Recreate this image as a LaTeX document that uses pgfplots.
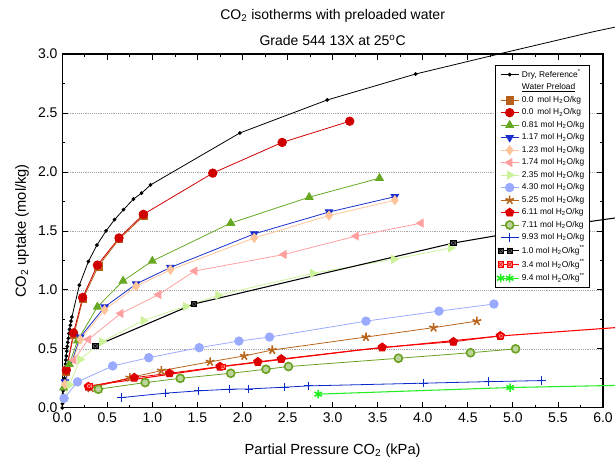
\documentclass[border=0pt]{standalone}
\usepackage{fontspec}
\setmainfont{Liberation Sans}
\usepackage{pgfplots}
\pgfplotsset{compat=1.18}
\usetikzlibrary{plotmarks}

\definecolor{cBrown}{HTML}{B8601A}
\definecolor{cRed}{HTML}{D00000}
\definecolor{cOlive}{HTML}{66A822}
\definecolor{cBlue}{HTML}{1A2ECC}
\definecolor{cPeach}{HTML}{FFC49A}
\definecolor{cPink}{HTML}{FFA0A0}
\definecolor{cLGreen}{HTML}{CCF299}
\definecolor{cLBlue}{HTML}{99AAFF}
\definecolor{cStar}{HTML}{B8651B}
\definecolor{cPent}{HTML}{DD0000}
\definecolor{cOlive2}{HTML}{6AA121}
\definecolor{cBlue2}{HTML}{0A2ACC}
\definecolor{cBRed}{HTML}{FF0000}
\definecolor{cBGreen}{HTML}{22EE22}

% square with a cross in it
\pgfdeclareplotmark{boxx}{%
  \pgfpathrectangle{\pgfqpoint{-\pgfplotmarksize}{-\pgfplotmarksize}}{\pgfqpoint{2\pgfplotmarksize}{2\pgfplotmarksize}}%
  \pgfusepathqfillstroke
  \pgfpathmoveto{\pgfqpoint{-\pgfplotmarksize}{-\pgfplotmarksize}}\pgfpathlineto{\pgfqpoint{\pgfplotmarksize}{\pgfplotmarksize}}%
  \pgfpathmoveto{\pgfqpoint{-\pgfplotmarksize}{\pgfplotmarksize}}\pgfpathlineto{\pgfqpoint{\pgfplotmarksize}{-\pgfplotmarksize}}%
  \pgfusepathqstroke}

\begin{document}
\begin{tikzpicture}
\begin{axis}[
  width=405.75pt, height=265.5pt, scale only axis,
  xmin=0, xmax=6, ymin=0, ymax=3,
  xtick={0,0.5,1,1.5,2,2.5,3,3.5,4,4.5,5,5.5,6},
  ytick={0,0.5,1,1.5,2,2.5,3},
  minor x tick num=1, minor y tick num=1,
  tick align=inside,
  major tick length=4.5pt, minor tick length=2.3pt,
  tick style={black, line width=0.6pt},
  axis line style={line width=0.8pt},
  ymajorgrids, major grid style={densely dotted, gray!70, line width=0.5pt},
  clip=false,
  /pgf/number format/assume math mode=true,
  xticklabel style={/pgf/number format/.cd, fixed, fixed zerofill, precision=1},
  yticklabel style={/pgf/number format/.cd, fixed, fixed zerofill, precision=1},
  ticklabel style={font=\fontsize{10.5}{12}\selectfont},
  xlabel={Partial Pressure CO\textsubscript{2} (kPa)},
  ylabel={CO\textsubscript{2} uptake (mol/kg)},
  label style={font=\fontsize{11}{13}\selectfont},
  xlabel style={yshift=-9pt},
  title={CO\textsubscript{2} isotherms with preloaded water\\Grade 544 13X at 25\textsuperscript{o}C},
  title style={align=center, font=\fontsize{10.5}{20}\selectfont, yshift=-3.5pt},
  legend style={at={(0.9755,0.969)}, anchor=north east, draw=black, fill=white,
    font=\fontsize{6.3}{7.6}\selectfont, row sep=-0.7pt, inner sep=1.5pt},
  legend cell align=left,
  legend image code/.code={%
    \draw[mark repeat=2, mark phase=2]
      plot coordinates {(0cm,0cm) (0.24cm,0cm) (0.48cm,0cm)};},
  every axis plot/.append style={line width=0.6pt},
]
% dry reference
\addplot[black, mark=*, mark size=1.1pt] coordinates {
(0.000,0.000) (0.002,0.035) (0.004,0.07) (0.007,0.11) (0.011,0.145) (0.015,0.18)
(0.019,0.215) (0.023,0.25) (0.027,0.29) (0.031,0.33) (0.036,0.37) (0.040,0.405)
(0.045,0.44) (0.050,0.48) (0.056,0.52) (0.062,0.555) (0.068,0.59) (0.075,0.63)
(0.082,0.665) (0.090,0.70) (0.098,0.735) (0.107,0.77) (0.19,1.04) (0.29,1.24)
(0.385,1.38) (0.486,1.50) (0.58,1.595) (0.68,1.68) (0.79,1.77) (0.88,1.82)
(0.98,1.89) (1.97,2.33) (2.94,2.61) (3.92,2.83)};
\addlegendentry{Dry, Reference\textsuperscript{*}}
\addplot[black, forget plot] coordinates {(3.92,2.83) (4.90,3.01) (5.90,3.19) (6.15,3.23)};
\addlegendimage{empty legend}
\addlegendentry{\underline{Water Preload}}
% 0.0 brown squares
\addplot[cBrown, mark=square*, mark size=2.8pt, mark options={fill=cBrown}] coordinates {
(0.04,0.31) (0.13,0.62) (0.23,0.925) (0.40,1.20) (0.63,1.43) (0.90,1.625)};
\addlegendentry{0.0 \,mol H\textsubscript{2}O/kg}
% 0.0 red circles
\addplot[cRed, mark=*, mark size=3.2pt, mark options={fill=cRed}] coordinates {
(0.045,0.32) (0.125,0.635) (0.226,0.935) (0.39,1.21) (0.63,1.44) (0.90,1.64)
(1.67,1.99) (2.44,2.25) (3.19,2.43)};
\addlegendentry{0.0 \,mol H\textsubscript{2}O/kg}
% 0.81
\addplot[cOlive, mark=triangle*, mark size=3.4pt, mark options={fill=cOlive}] coordinates {
(0.015,0.17) (0.078,0.37) (0.17,0.57) (0.39,0.856) (0.675,1.076) (1.00,1.245)
(1.87,1.566) (2.74,1.786) (3.52,1.947)};
\addlegendentry{0.81 mol H\textsubscript{2}O/kg}
% 1.17
\addplot[cBlue, mark=triangle*, mark size=3.2pt, mark options={fill=cBlue, rotate=180}] coordinates {
(0.03,0.22) (0.20,0.60) (0.47,0.855) (0.82,1.05) (1.20,1.19) (2.13,1.475)
(2.96,1.66) (3.69,1.79)};
\addlegendentry{1.17 mol H\textsubscript{2}O/kg}
% 1.23
\addplot[cPeach, mark=diamond*, mark size=3.4pt, mark options={fill=cPeach}] coordinates {
(0.03,0.20) (0.20,0.58) (0.47,0.83) (0.82,1.03) (1.20,1.17) (2.13,1.44)
(2.96,1.63) (3.69,1.76)};
\addlegendentry{1.23 mol H\textsubscript{2}O/kg}
% 1.74
\addplot[cPink, mark=triangle*, mark size=3.4pt, mark options={fill=cPink, rotate=90}] coordinates {
(0.127,0.405) (0.29,0.58) (0.65,0.80) (1.07,0.96) (1.47,1.16) (2.46,1.30)
(3.26,1.456) (3.98,1.566)};
\addlegendentry{1.74 mol H\textsubscript{2}O/kg}
% 2.35
\addplot[cLGreen, mark=triangle*, mark size=3.4pt, mark options={fill=cLGreen, rotate=-90}] coordinates {
(0.02,0.08) (0.08,0.195) (0.197,0.41) (0.44,0.56) (0.90,0.74) (1.37,0.86)
(1.73,0.955) (2.78,1.14) (3.68,1.26) (4.31,1.355)};
\addlegendentry{2.35 mol H\textsubscript{2}O/kg}
% 4.30
\addplot[cLBlue, mark=*, mark size=3.2pt, mark options={fill=cLBlue}] coordinates {
(0.02,0.08) (0.17,0.22) (0.56,0.355) (0.96,0.425) (1.52,0.51) (1.96,0.566)
(2.30,0.60) (3.37,0.735) (4.18,0.82) (4.79,0.88)};
\addlegendentry{4.30 mol H\textsubscript{2}O/kg}
% 5.25
\addplot[cStar, mark=star, mark size=3.4pt, mark options={fill=cStar, line width=1.2pt}] coordinates {
(0.315,0.166) (0.75,0.256) (1.10,0.315) (1.64,0.39) (2.02,0.44) (2.33,0.49)
(3.37,0.60) (4.12,0.68) (4.60,0.735)};
\addlegendentry{5.25 mol H\textsubscript{2}O/kg}
% 6.11
\addplot[cPent, mark=pentagon*, mark size=3.3pt, mark options={fill=cPent}] coordinates {
(0.29,0.18) (0.80,0.256) (1.19,0.293) (1.75,0.35) (2.17,0.39) (2.43,0.414)
(3.55,0.513) (4.34,0.56) (4.86,0.61)};
\addlegendentry{6.11 mol H\textsubscript{2}O/kg}
% 7.11
\addplot[cOlive2, mark=*, mark size=3.0pt, mark options={fill=cOlive2!45!white, line width=1.2pt}] coordinates {
(0.40,0.158) (0.92,0.214) (1.31,0.25) (1.87,0.293) (2.26,0.327) (2.51,0.35)
(3.73,0.42) (4.53,0.467) (5.03,0.50)};
\addlegendentry{7.11 mol H\textsubscript{2}O/kg}
% 9.93
\addplot[cBlue2, mark=+, mark size=3.2pt] coordinates {
(0.66,0.087) (1.14,0.124) (1.51,0.144) (1.86,0.158) (2.07,0.16) (2.47,0.175)
(2.73,0.186) (4.01,0.209) (4.73,0.222) (5.32,0.231)};
\addlegendentry{9.93 mol H\textsubscript{2}O/kg}
% 1.0 **
\addplot[black, line width=0.8pt, mark=boxx, mark size=2.0pt, mark indices={1,2,4},
  mark options={fill=gray!80!black, line width=0.5pt}] coordinates {
(0.367,0.524) (1.46,0.88) (2.90,1.14) (4.34,1.397) (5.20,1.51) (6.14,1.61)};
\addlegendentry{1.0 mol H\textsubscript{2}O/kg\textsuperscript{**}}
% 3.4 **
\addplot[cBRed, line width=0.8pt, mark=boxx, mark size=2.0pt, mark indices={1,2,4},
  mark options={fill=cBRed!40!white, line width=0.5pt}] coordinates {
(0.30,0.185) (1.78,0.35) (3.30,0.49) (4.87,0.61) (6.14,0.68)};
\addlegendentry{3.4 mol H\textsubscript{2}O/kg\textsuperscript{**}}
% 9.4 **
\addplot[cBGreen, line width=0.8pt, mark=asterisk, mark size=3.2pt, mark indices={1,2},
  mark options={line width=1.2pt}] coordinates {
(2.84,0.116) (4.97,0.172) (6.14,0.19)};
\addlegendentry{9.4 mol H\textsubscript{2}O/kg\textsuperscript{**}}
\coordinate (bbsw) at (rel axis cs:0,0);
\coordinate (bbne) at (rel axis cs:1,1);
\end{axis}
\pgfresetboundingbox
\path[use as bounding box] ([xshift=-46.7pt,yshift=-39pt]bbsw) rectangle ([xshift=9pt,yshift=40.5pt]bbne);
\end{tikzpicture}
\end{document}
